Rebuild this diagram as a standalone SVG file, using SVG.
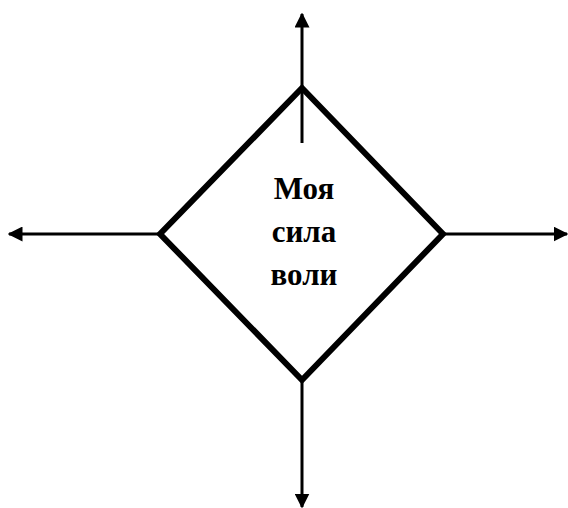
<svg xmlns="http://www.w3.org/2000/svg" width="568" height="508" viewBox="0 0 568 508">
<style>
.shape{fill:#fff;stroke:#000;stroke-width:6;stroke-linejoin:miter}
.conn{stroke:#000;stroke-width:3;fill:none}
.lbl{font-family:"Liberation Serif","Times New Roman",serif;font-weight:bold;font-size:31px;fill:#000;text-anchor:middle}
</style>
<defs>
<marker id="ah" viewBox="0 0 10 10" refX="9" refY="5" markerWidth="5" markerHeight="5" orient="auto" markerUnits="strokeWidth">
<path d="M0,0 L10,5 L0,10 z" fill="#000"/>
</marker>
</defs>
<g id="center">
<polygon class="shape" points="302,88 443,234 302,380 160,234"/>
<text class="lbl" x="304" y="199">Моя</text>
<text class="lbl" x="304" y="242">сила</text>
<text class="lbl" x="304" y="285">воли</text>
</g>
<g id="connectors">
<line class="conn" x1="302" y1="143" x2="302" y2="14" marker-end="url(#ah)"/>
<line class="conn" x1="160" y1="234" x2="9" y2="234" marker-end="url(#ah)"/>
<line class="conn" x1="443" y1="234" x2="567" y2="234" marker-end="url(#ah)"/>
<line class="conn" x1="302" y1="380" x2="302" y2="507" marker-end="url(#ah)"/>
</g>
</svg>
